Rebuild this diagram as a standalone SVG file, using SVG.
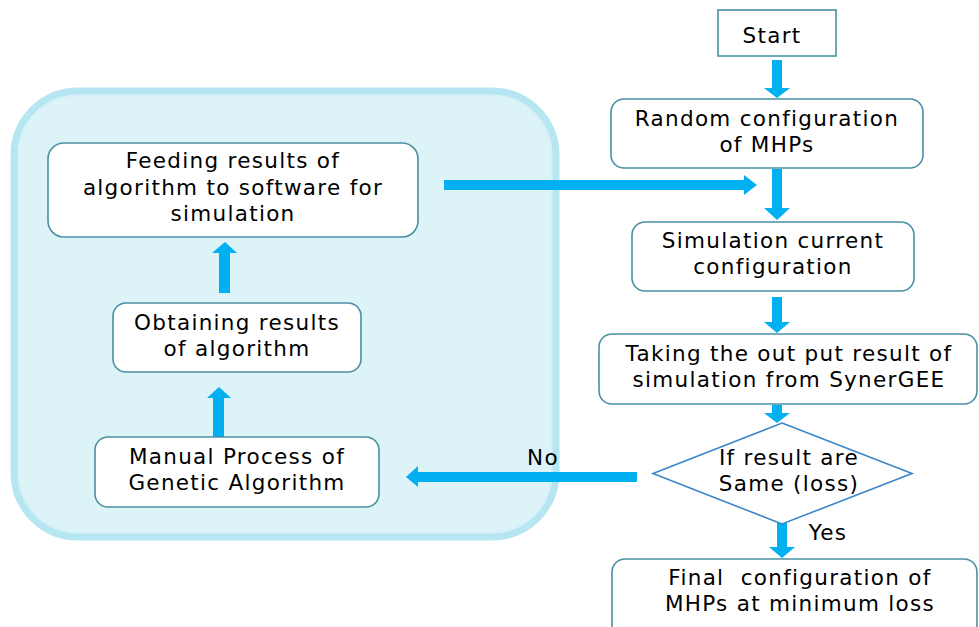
<svg xmlns="http://www.w3.org/2000/svg" width="979" height="627" viewBox="0 0 979 627">
<style>
.box{fill:#ffffff;stroke:#4a90a4;stroke-width:1.6}
.t{font-family:"DejaVu Sans","Verdana",sans-serif;font-size:21.5px;letter-spacing:1.3px;fill:#000;text-anchor:middle}
.arr{fill:#00b0f0}
</style>
<rect width="979" height="627" fill="#ffffff"/>
<g id="container">
<rect x="14" y="91" width="542" height="446" rx="64" fill="#dcf3f8" stroke="#b5e6f2" stroke-width="7"/>
<rect x="18.5" y="95.5" width="533" height="437" rx="60" fill="none" stroke="#d2f0f7" stroke-width="1"/>
</g>
<g id="connectors">
<polygon class="arr" points="772,60 782,60 782,88 790,88 777,98 764,88 772,88"/>
<polygon class="arr" points="772,169 782,169 782,208 790,208 777,220 764,208 772,208"/>
<polygon class="arr" points="772,297 782,297 782,322 790,322 777,333 764,322 772,322"/>
<polygon class="arr" points="772,405 782,405 782,413 790,413 777,423 764,413 772,413"/>
<polygon class="arr" points="777,517 787,517 787,547 795,547 782,558 769,547 777,547"/>
<polygon class="arr" points="213,437 224,437 224,398 231,398 219,387 207,398 213,398"/>
<polygon class="arr" points="219,293 230,293 230,253 237,253 225,242 212,253 219,253"/>
<polygon class="arr" points="444,180 744,180 744,175 757,185 744,195 744,190 444,190"/>
<polygon class="arr" points="637,472 418,472 418,466 406,477 418,487 418,482 637,482"/>
<text class="t" x="543" y="465">No</text>
<text class="t" x="828" y="540">Yes</text>
</g>
<g id="start">
<rect class="box" x="718" y="10" width="118" height="46"/>
<text class="t" x="772" y="43">Start</text>
</g>
<g id="random">
<rect class="box" x="611" y="99" width="312" height="69" rx="13"/>
<text class="t" x="767" y="126">Random configuration</text>
<text class="t" x="767" y="152">of MHPs</text>
</g>
<g id="simulation">
<rect class="box" x="632" y="222" width="282" height="69" rx="13"/>
<text class="t" x="773" y="248">Simulation current</text>
<text class="t" x="773" y="274">configuration</text>
</g>
<g id="taking">
<rect class="box" x="599" y="334" width="378" height="70" rx="13"/>
<text class="t" x="789" y="361">Taking the out put result of</text>
<text class="t" x="789" y="387">simulation from SynerGEE</text>
</g>
<g id="decision">
<polygon points="782,423 912,473.5 782,524 653,473.5" fill="#ffffff" stroke="#3a86c8" stroke-width="1.6"/>
<text class="t" x="789" y="465">If result are</text>
<text class="t" x="789" y="491">Same (loss)</text>
</g>
<g id="final">
<rect class="box" x="612" y="559" width="365" height="80" rx="13"/>
<text class="t" x="800" y="585" xml:space="preserve">Final  configuration of</text>
<text class="t" x="800" y="611">MHPs at minimum loss</text>
</g>
<g id="feeding">
<rect class="box" x="48" y="143" width="370" height="94" rx="16"/>
<text class="t" x="233" y="168">Feeding results of</text>
<text class="t" x="233" y="195">algorithm to software for</text>
<text class="t" x="233" y="221">simulation</text>
</g>
<g id="obtaining">
<rect class="box" x="113" y="303" width="248" height="69" rx="13"/>
<text class="t" x="237" y="330">Obtaining results</text>
<text class="t" x="237" y="356">of algorithm</text>
</g>
<g id="manual">
<rect class="box" x="95" y="437" width="284" height="70" rx="13"/>
<text class="t" x="237" y="464">Manual Process of</text>
<text class="t" x="237" y="490">Genetic Algorithm</text>
</g>
</svg>
